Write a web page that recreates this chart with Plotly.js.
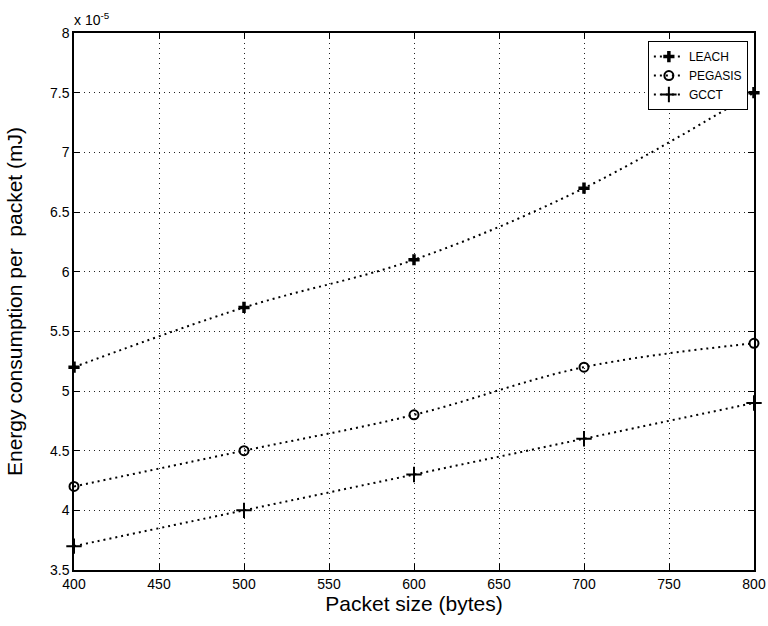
<!DOCTYPE html>
<html><head><meta charset="utf-8">
<script src="https://cdn.plot.ly/plotly-3.0.1.min.js"></script>
<style>body{margin:0;background:#fff}#c{width:768px;height:626px}</style>
</head><body><div id="c"></div>
<script>
const packetSize = [400, 500, 600, 700, 800];
const leach   = [5.2, 5.7, 6.1, 6.7, 7.5];   // x 10^-5 mJ
const pegasis = [4.2, 4.5, 4.8, 5.2, 5.4];
const gcct    = [3.7, 4.0, 4.3, 4.6, 4.9];
const xTicks = [400,450,500,550,600,650,700,750,800];
const yTicks = [3.5,4,4.5,5,5.5,6,6.5,7,7.5,8];

const line = {color:'#000', width:2, dash:'2px,4px', shape:'spline'};
const traces = [
  {x:packetSize, y:leach, name:'LEACH', mode:'lines+markers', line:line, cliponaxis:false,
   marker:{symbol:'cross-thin-open', size:8, color:'#000', line:{width:3.5,color:'#000'}}},
  {x:packetSize, y:pegasis, name:'PEGASIS', mode:'lines+markers', line:line, cliponaxis:false,
   marker:{symbol:'circle-open', size:9, color:'#000', line:{width:2,color:'#000'}}},
  {x:packetSize, y:gcct, name:'GCCT', mode:'lines+markers', line:line, cliponaxis:false,
   marker:{symbol:'cross-thin-open', size:11, color:'#000', line:{width:2,color:'#000'}}}
];
const FONT = 'Liberation Sans, Arial';
const ax = {showline:true, linecolor:'#000', linewidth:1.5, mirror:'ticks', ticks:'inside', ticklen:6,
  tickcolor:'#000', showgrid:true, gridcolor:'#222', griddash:'1px,4px', gridwidth:1, zeroline:false,
  tickfont:{family:FONT, size:14, color:'#000'}};
const layout = {
  width:768, height:626, paper_bgcolor:'#fff', plot_bgcolor:'#fff',
  margin:{l:74, r:12, t:33, b:56},
  showlegend:true,
  legend:{x:0.991, y:0.985, xanchor:'right', yanchor:'top', bordercolor:'#000', borderwidth:1,
    bgcolor:'#fff', font:{family:FONT, size:12, color:'#000'}, tracegroupgap:0},
  xaxis:Object.assign({}, ax, {range:[400,800], tickvals:xTicks, automargin:'height',
    title:{text:'Packet size (bytes)', standoff:4, font:{family:FONT, size:21, color:'#000'}}}),
  yaxis:Object.assign({}, ax, {range:[3.5,8], tickvals:yTicks, automargin:'width',
    title:{text:'Energy consumption per  packet (mJ)', standoff:22, font:{family:FONT, size:21, color:'#000'}}}),
  annotations:[{xref:'paper', yref:'paper', x:0, y:1, xanchor:'left', yanchor:'bottom', yshift:3, xshift:-2,
    text:'x 10<sup>-5</sup>', showarrow:false, font:{family:FONT, size:14, color:'#000'}}]
};
Plotly.newPlot('c', traces, layout, {displayModeBar:false});
</script></body></html>
